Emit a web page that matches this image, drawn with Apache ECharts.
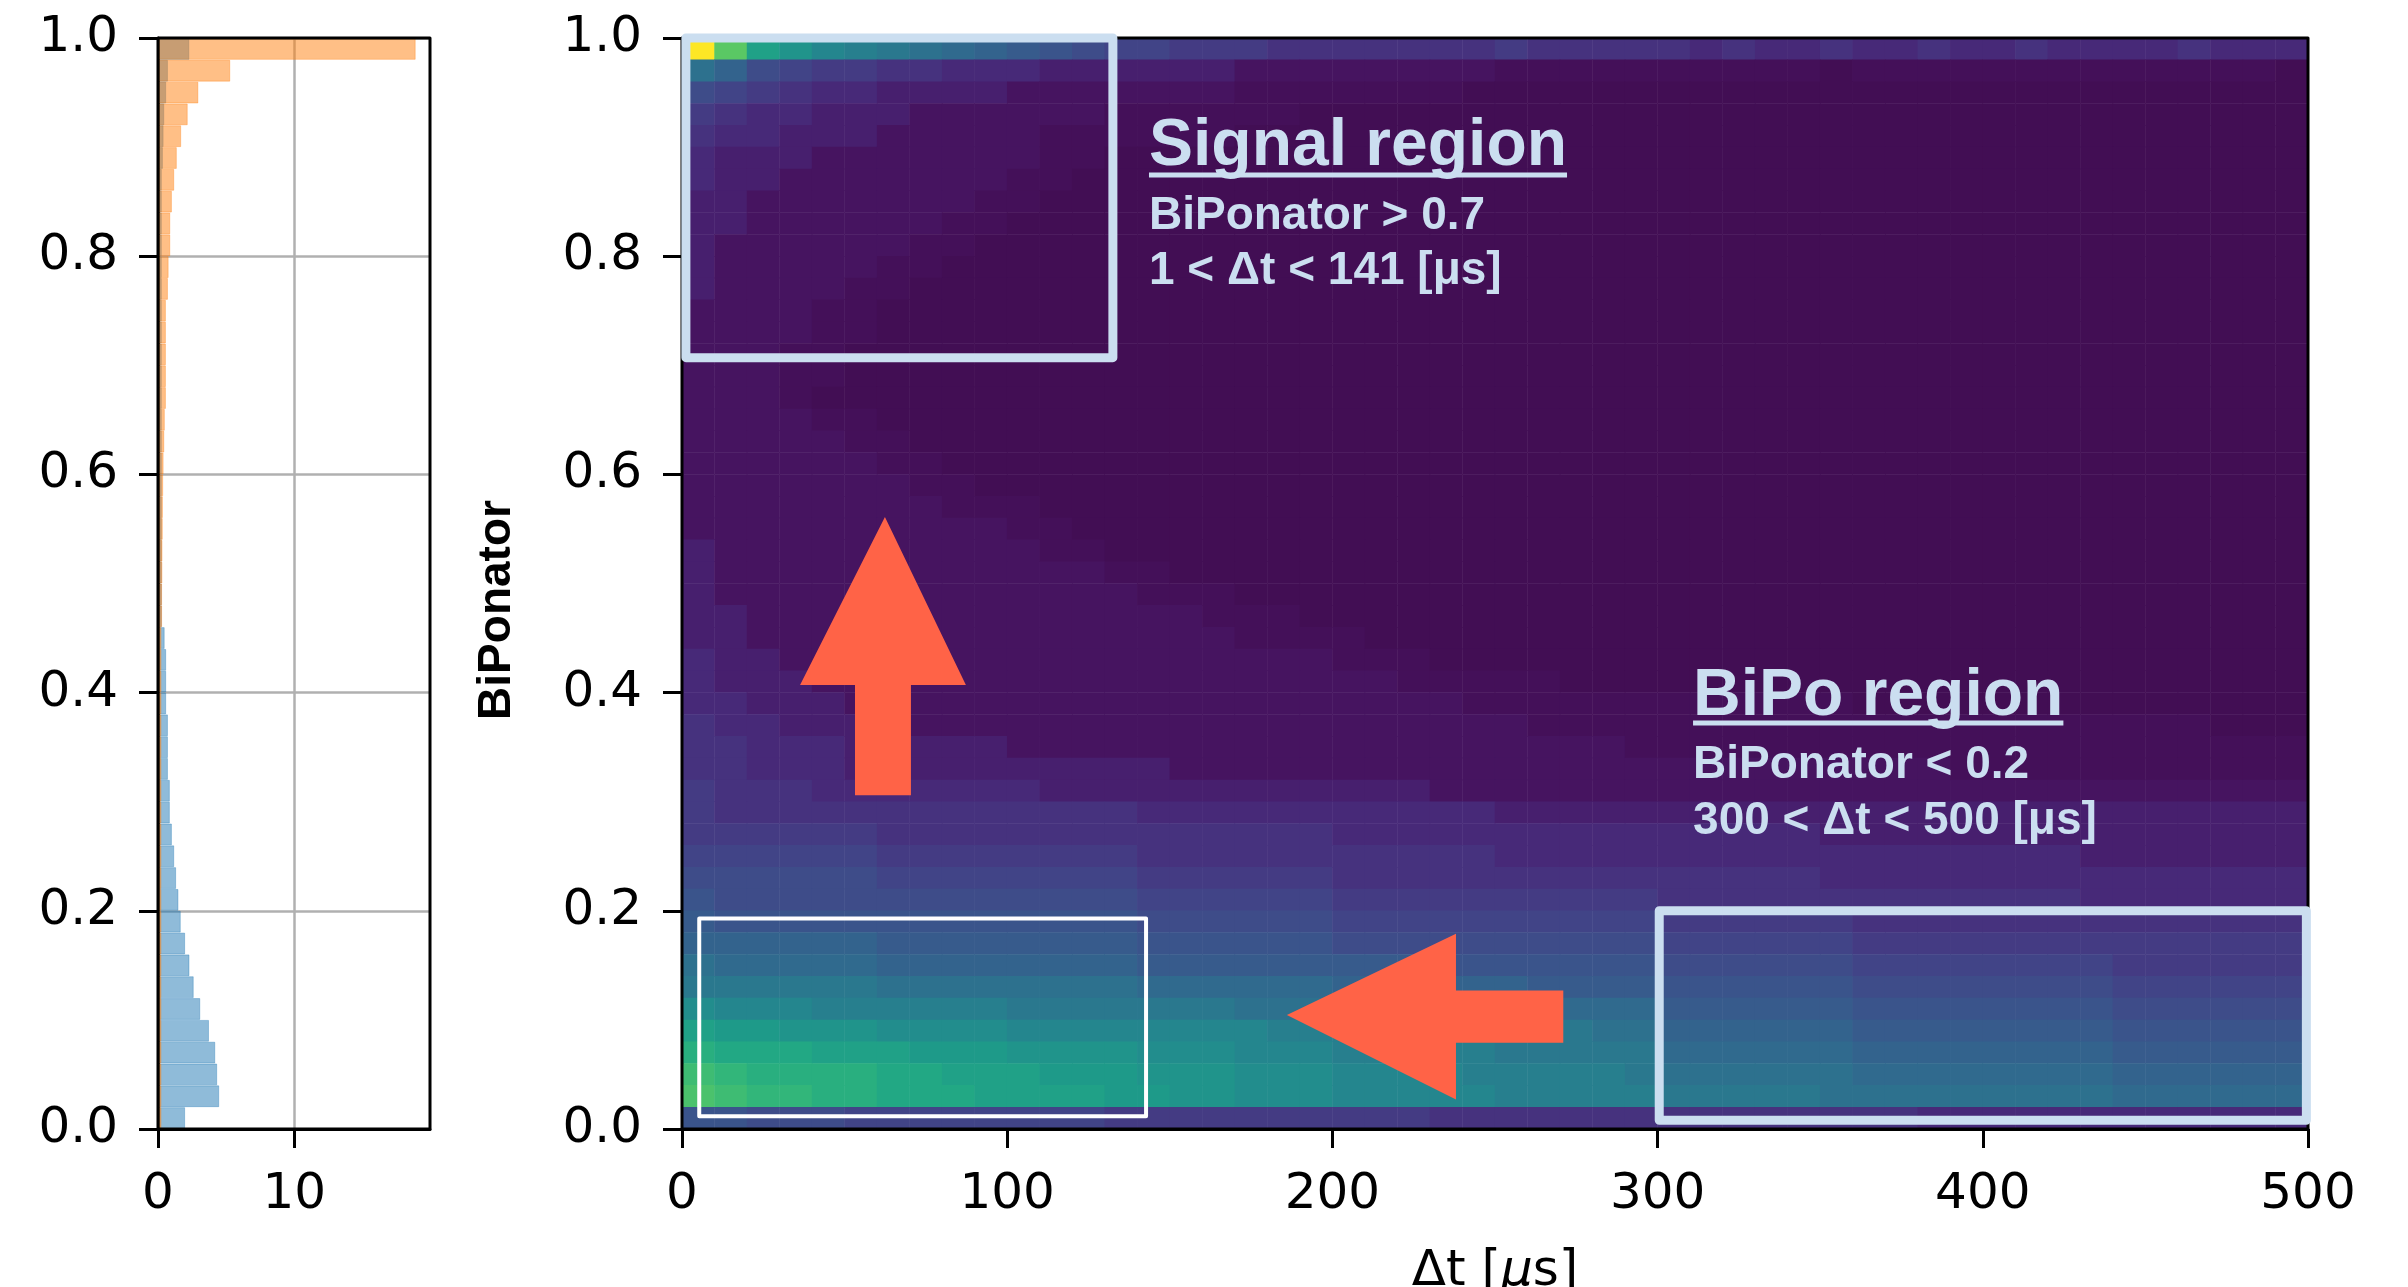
<!DOCTYPE html>
<html><head><meta charset="utf-8">
<script src="https://cdn.jsdelivr.net/npm/echarts@6/dist/echarts.min.js"></script>
<style>html,body{margin:0;padding:0;background:#fff;}#c{width:2408px;height:1287px;}</style>
</head><body><div id="c"></div>
<script>
// ---------- DATA ----------
// Left histogram, 50 bins of BiPonator (0.00-0.02 ... 0.98-1.00), bottom to top
const HIST_BLUE = [1.99, 4.49, 4.34, 4.2, 3.74, 3.1, 2.62, 2.31, 1.99, 1.67,
  1.5, 1.33, 1.19, 1.02, 0.87, 0.87, 0.73, 0.73, 0.73, 0.6,
  0.6, 0.6, 0.49, 0.28, 0.28, 0.28, 0.28, 0.28, 0.28, 0.28,
  0.28, 0.28, 0.28, 0.28, 0.28, 0.28, 0.28, 0.28, 0.28, 0.28,
  0.28, 0.28, 0.28, 0.28, 0.36, 0.41, 0.46, 0.6, 0.73, 2.3];
const HIST_ORANGE = [0.25, 0.25, 0.25, 0.25, 0.25, 0.25, 0.25, 0.25, 0.25, 0.25,
  0.25, 0.25, 0.25, 0.25, 0.25, 0.25, 0.25, 0.25, 0.25, 0.25,
  0.25, 0.25, 0.25, 0.3, 0.3, 0.32, 0.33, 0.35, 0.36, 0.38,
  0.41, 0.46, 0.5, 0.58, 0.58, 0.58, 0.58, 0.58, 0.73, 0.78,
  0.9, 0.9, 1.02, 1.19, 1.38, 1.7, 2.18, 2.96, 5.3, 18.9];
const HIST_X_TICKS = [0, 10];

// Heatmap: 50 columns (dt bins of 10 us) x 50 rows (BiPonator bins of 0.02).
// Each row string: one base-36 colour level per cell (0 = darkest, z = 35 = brightest), top row first.
const HEAT_ROWS = [
  "zqkigfedcb a987766655 5555565555 5454454454 4544445444",
  "db87665544 4333333222 2222211111 1111101111 1111111110",
  "8765443333 2222222111 1111000000 0000000000 0000000000",
  "6544333222 2221111110 0000000000 0000000000 0000000000",
  "5443332222 2111111000 0000000000 0000000000 0000000000",
  "4333222222 2110000000 0000000000 0000000000 0000000000",
  "4332222222 1100000000 0000000000 0000000000 0000000000",
  "3322222221 1000000000 0000000000 0000000000 0000000000",
  "3322222211 0000000000 0000000000 0000000000 0000000000",
  "3222222110 0000000000 0000000000 0000000000 0000000000",
  "3222221100 0000000000 0000000000 0000000000 0000000000",
  "3222211000 0000000000 0000000000 0000000000 0000000000",
  "2222110000 0000000000 0000000000 0000000000 0000000000",
  "2222110000 0000000000 0000000000 0000000000 0000000000",
  "2221100000 0000000000 0000000000 0000000000 0000000000",
  "2221100000 0000000000 0000000000 0000000000 0000000000",
  "2221000000 0000000000 0000000000 0000000000 0000000000",
  "2222110000 0000000000 0000000000 0000000000 0000000000",
  "2222211000 0000000000 0000000000 0000000000 0000000000",
  "2222221100 0000000000 0000000000 0000000000 0000000000",
  "2222222110 0000000000 0000000000 0000000000 0000000000",
  "2222222211 1000000000 0000000000 0000000000 0000000000",
  "2222222222 1100000000 0000000000 0000000000 0000000000",
  "3222222222 2110000000 0000000000 0000000000 0000000000",
  "3222222222 2221100000 0000000000 0000000000 0000000000",
  "3222222222 2222111000 0000000000 0000000000 0000000000",
  "3322222222 2222221110 0000000000 0000000000 0000000000",
  "3322222222 2222222111 1000000000 0000000000 0000000000",
  "4332222222 2222222222 1110000000 0000000000 0000000000",
  "4333222222 2222222222 2211111000 0000000000 0000000000",
  "4433322222 2222222222 2222111111 1111110000 0000000000",
  "5443333222 2222222222 2222221111 1111111111 1111111000",
  "5544433333 2222222222 2222222221 1111111111 1111111111",
  "5544433333 3333322222 2222222222 2222222221 1111111111",
  "6555444444 4333333333 3332222222 2222222222 2222222222",
  "6555555555 5555444444 4444433333 3333333333 3333333333",
  "6666665555 5555555555 4444444444 4444433333 3333333333",
  "7777776666 6666555555 5555544444 4444444444 4443333333",
  "8888887777 7777666666 5555555555 5555544444 4444444444",
  "9888888888 8888777777 6666666666 5555555555 5554444444",
  "a999999999 9999888888 7777777777 6666665555 5555555555",
  "bbbbbbaaaa aaaa999999 8888888888 7777776666 6666666666",
  "dcccccbbbb bbbbaaaaaa aaa9999999 8888887777 7777666666",
  "eeeeeedddd ddddcccccc bbbbbbaaaa 9999998888 8888777777",
  "hgggffffff eeeeeeeddd dddddccccc aaaaaa9999 9999888888",
  "kjjiiihhhh ggggggggff fffeeeeedd bbbbbbaaaa aaaa999999",
  "mlllkkkjjj iiiihhhggg fffffeeeee ccccccbbbb bbbbaaaaaa",
  "onmmmmllkk kjjjiiihhh ggggfffffe ddddddcccc ccccbbbbbb",
  "ponnmmlllk kkkjjiihhh gggggfffff eeeeeddddd ddddcccccc",
  "9988877777 7776666666 6665555555 5555555544 4444444444"
];
const MAIN_X_TICKS = [0, 100, 200, 300, 400, 500];
const Y_TICKS = [0, 0.2, 0.4, 0.6, 0.8, 1.0];

// viridis-like colour ramp (21 evenly spaced stops), low end matched to the picture
const VIRIDIS = ['#420e54','#46115c','#482475','#463480','#414487','#3b528b','#355f8d',
  '#2f6c8e','#2a788e','#25848e','#21918c','#1e9c89','#22a884','#2fb47c','#44bf70',
  '#5ec962','#7ad151','#9bd93c','#bddf26','#dfe318','#fde725'];

// ---------- BUILD ----------
const NB = 50;
const yCats = [], xCats = [];
for (let i = 0; i < NB; i++) { yCats.push(String(i)); xCats.push(String(i)); }
const heatData = [];
HEAT_ROWS.forEach((s, r) => {
  const ch = s.replace(/ /g, '');
  for (let c = 0; c < ch.length; c++) heatData.push([c, NB - 1 - r, parseInt(ch[c], 36)]);
});

const FONT = 'DejaVu Sans';
const ANN = 'Liberation Sans';
const tick = {show: true, inside: false, length: 19, lineStyle: {color: '#000', width: 3}};
const aline = {show: true, onZero: false, lineStyle: {color: '#000', width: 3}};
const lab = (m) => ({show: true, fontSize: 50, fontFamily: FONT, color: '#000', margin: m});

const chart = echarts.init(document.getElementById('c'), null, {renderer: 'canvas'});
chart.setOption({
  animation: false,
  backgroundColor: '#fff',
  grid: [
    {left: 158, top: 38, width: 272, height: 1091, containLabel: false, outerBoundsMode: 'none'},
    {left: 682, top: 38, width: 1626, height: 1091, containLabel: false, outerBoundsMode: 'none'}
  ],
  xAxis: [
    {gridIndex: 0, type: 'value', min: 0, max: 19.95, interval: 10, position: 'bottom',
      axisLine: aline,
      axisTick: Object.assign({}, tick, {customValues: HIST_X_TICKS}),
      axisLabel: Object.assign(lab(41), {customValues: HIST_X_TICKS}),
      splitLine: {show: true, lineStyle: {color: '#b0b0b0', width: 2.5}}},
    {gridIndex: 1, type: 'category', data: xCats, show: false, boundaryGap: true, position: 'top'},
    {gridIndex: 1, type: 'value', min: 0, max: 500, interval: 100, position: 'bottom',
      axisLine: aline, axisTick: tick, axisLabel: lab(41), splitLine: {show: false},
      name: '{a|Δt [}{b|μ}{a|s]}', nameLocation: 'middle', nameGap: 118,
      nameTextStyle: {fontSize: 50, fontFamily: FONT, color: '#000',
        rich: {a: {fontSize: 50, fontFamily: FONT, color: '#000'},
               b: {fontSize: 50, fontFamily: FONT, fontStyle: 'italic', color: '#000'}}}}
  ],
  yAxis: [
    {gridIndex: 0, type: 'category', data: yCats, show: false, position: 'right'},
    {gridIndex: 0, type: 'value', min: 0, max: 1, interval: 0.2, position: 'left',
      axisLine: aline, axisTick: tick,
      axisLabel: Object.assign(lab(40), {formatter: v => v.toFixed(1)}),
      splitLine: {show: true, lineStyle: {color: '#b0b0b0', width: 2.5}}},
    {gridIndex: 1, type: 'category', data: yCats, show: false, position: 'right'},
    {gridIndex: 1, type: 'value', min: 0, max: 1, interval: 0.2, position: 'left',
      axisLine: aline, axisTick: tick,
      axisLabel: Object.assign(lab(40), {formatter: v => v.toFixed(1)}),
      splitLine: {show: false}}
  ],
  visualMap: {show: false, type: 'continuous', min: 0, max: 35, seriesIndex: 2, dimension: 2,
    inRange: {color: VIRIDIS}},
  series: [
    {type: 'bar', xAxisIndex: 0, yAxisIndex: 0, data: HIST_BLUE, barWidth: '100%', barGap: '-100%',
      itemStyle: {color: 'rgba(31,119,180,0.5)', borderColor: 'rgba(31,119,180,0.35)', borderWidth: 1}, silent: true},
    {type: 'bar', xAxisIndex: 0, yAxisIndex: 0, data: HIST_ORANGE, barWidth: '100%', barGap: '-100%',
      itemStyle: {color: 'rgba(255,127,14,0.5)', borderColor: 'rgba(255,127,14,0.35)', borderWidth: 1}, silent: true},
    {type: 'heatmap', xAxisIndex: 1, yAxisIndex: 2, data: heatData, progressive: 0,
      itemStyle: {borderWidth: 0}, emphasis: {disabled: true}, silent: true}
  ]
});

// ---------- ANNOTATIONS (data units -> pixels via the axes) ----------
const P = (x, y) => chart.convertToPixel({xAxisIndex: 2, yAxisIndex: 3}, [x, y]);
const PH = (x, y) => chart.convertToPixel({xAxisIndex: 0, yAxisIndex: 1}, [x, y]);
const LB = '#cbdef0';
const TOMATO = '#ff6347';

function rectEl(p0, p1, stroke, lw, z) {
  return {type: 'rect', z: z, silent: true,
    shape: {x: Math.min(p0[0], p1[0]), y: Math.min(p0[1], p1[1]),
            width: Math.abs(p1[0] - p0[0]), height: Math.abs(p1[1] - p0[1])},
    style: {fill: 'none', stroke: stroke, lineWidth: lw, lineJoin: 'round'}};
}
const SIGNAL_BOX = [1.2, 0.707, 132.5, 1.0];
const WHITE_BOX = [5.3, 0.0117, 142.7, 0.193];
const BIPO_BOX = [300.5, 0.008, 499.5, 0.2];
const UP_ARROW = [[62.4, 0.561], [87.3, 0.407], [70.4, 0.407], [70.4, 0.306], [53.2, 0.306], [53.2, 0.407], [36.3, 0.407]];
const LEFT_ARROW = [[186, 0.1045], [238, 0.179], [238, 0.127], [271, 0.127], [271, 0.079], [238, 0.079], [238, 0.027]];

const meas = document.createElement('canvas').getContext('2d');
function tw(text, font) { meas.font = font; return meas.measureText(text).width; }

function textEl(x, y, text, size, z) {
  const p = P(x, y);
  return {type: 'text', z: z, silent: true, x: p[0], y: p[1],
    style: {text: text, fill: LB, fontFamily: ANN, fontWeight: 'bold', fontSize: size,
      align: 'left', verticalAlign: 'middle'}};
}
function underline(x, y, text, size) {
  const p = P(x, y);
  const w = tw(text, 'bold ' + size + 'px "' + ANN + '"');
  return {type: 'rect', z: 120, silent: true, shape: {x: p[0], y: p[1] - 2.5, width: w, height: 5},
    style: {fill: LB}};
}

const h0 = PH(0, 1), h1 = PH(19.95, 0);
const m0 = P(0, 1), m1 = P(500, 0);
const els = [
  rectEl(h0, h1, '#000', 3, 100),
  rectEl(m0, m1, '#000', 3, 100),
  rectEl(P(SIGNAL_BOX[0], SIGNAL_BOX[1]), P(SIGNAL_BOX[2], SIGNAL_BOX[3]), LB, 9, 110),
  rectEl(P(WHITE_BOX[0], WHITE_BOX[1]), P(WHITE_BOX[2], WHITE_BOX[3]), '#ffffff', 4, 110),
  rectEl(P(BIPO_BOX[0], BIPO_BOX[1]), P(BIPO_BOX[2], BIPO_BOX[3]), LB, 9, 110),
  {type: 'polygon', z: 110, silent: true, shape: {points: UP_ARROW.map(d => P(d[0], d[1]))}, style: {fill: TOMATO}},
  {type: 'polygon', z: 110, silent: true, shape: {points: LEFT_ARROW.map(d => P(d[0], d[1]))}, style: {fill: TOMATO}},
  textEl(143.6, 0.9005, 'Signal region', 66, 120),
  underline(143.6, 0.8745, 'Signal region', 66),
  textEl(143.6, 0.8370, 'BiPonator > 0.7', 46, 120),
  textEl(143.6, 0.7865, '1 < Δt < 141 [μs]', 46, 120),
  textEl(310.9, 0.3960, 'BiPo region', 66, 120),
  underline(310.9, 0.3722, 'BiPo region', 66),
  textEl(310.9, 0.3330, 'BiPonator < 0.2', 46, 120),
  textEl(310.9, 0.2820, '300 < Δt < 500 [μs]', 46, 120),
  {type: 'text', z: 120, silent: true, x: 497, y: 610, rotation: Math.PI / 2,
    style: {text: 'BiPonator', fill: '#000', fontFamily: ANN, fontWeight: 'bold', fontSize: 46,
      align: 'center', verticalAlign: 'middle'}}
];
chart.setOption({graphic: {elements: els}});
</script>
</body></html>
